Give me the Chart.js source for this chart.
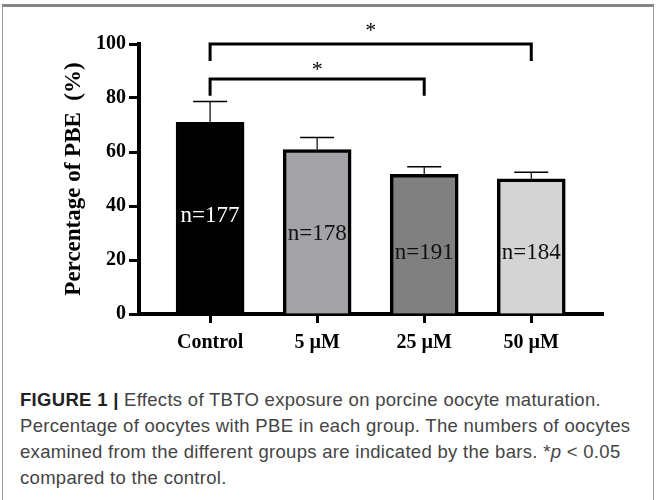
<!DOCTYPE html>
<html lang="en">
<head>
    <meta charset="UTF-8">
    <title>Percentage of PBE</title>
    <script src="https://cdn.jsdelivr.net/npm/chart.js"></script>
    <style>
        body { margin: 0; background: #fff; }
        #frame { position: absolute; left: 2px; top: 4px; width: 650px; height: 520px;
                 border-top: 3px solid #858585; border-left: 1px solid #9a9a9a; border-right: 1px solid #9a9a9a; }
        #box { position: absolute; left: 0; top: 0; width: 657px; height: 370px; }
        #caption { position: absolute; left: 20px; top: 387px; width: 630px;
                   font-family: "Liberation Sans", Arial, sans-serif; font-size: 18.5px; line-height: 26px;
                   letter-spacing: 0.3px; color: #444; white-space: nowrap; }
        #caption b { color: #222; }
    </style>
</head>
<body>
    <div id="frame"></div>
    <div id="box"><canvas id="myChart"></canvas></div>
    <div id="caption">
        <b>FIGURE 1 |</b> Effects of TBTO exposure on porcine oocyte maturation.<br>
        Percentage of oocytes with PBE in each group. The numbers of oocytes<br>
        examined from the different groups are indicated by the bars. *<i>p</i> &lt; 0.05<br>
        compared to the control.
    </div>

    <script>
        // datos
        const categories = ['Control', '5 µM', '25 µM', '50 µM'];
        const means = [71.0, 60.9, 51.7, 50.1];
        const sem = [7.7, 4.5, 2.8, 2.4];
        const nLabels = ['n=177', 'n=178', 'n=191', 'n=184'];
        const yTicks = [0, 20, 40, 60, 80, 100];
        // comparaciones significativas: desde, hasta
        const comparisons = [[0, 3], [0, 2]];

        const barColors = ['#000000', '#a3a2a7', '#808080', '#d4d4d4'];
        const serif = '"Liberation Serif", "Times New Roman", serif';

        // barras de error (SEM) dibujadas con las escalas del grafico
        const errorBars = {
            id: 'errorBars',
            beforeDatasetsDraw(chart) {
                const { ctx, scales: { x, y } } = chart;
                ctx.save();
                ctx.strokeStyle = '#000';
                means.forEach((m, i) => {
                    const px = x.getPixelForValue(i);
                    const top = y.getPixelForValue(m + sem[i]);
                    ctx.lineWidth = 1.2;
                    ctx.beginPath();
                    ctx.moveTo(px, y.getPixelForValue(m));
                    ctx.lineTo(px, top);
                    ctx.stroke();
                    ctx.lineWidth = 1.5;
                    ctx.beginPath();
                    ctx.moveTo(px - 17, top);
                    ctx.lineTo(px + 17, top);
                    ctx.stroke();
                });
                ctx.restore();
            }
        };

        // etiquetas n= dentro de las barras y corchetes de significancia
        const annotations = {
            id: 'annotations',
            afterDatasetsDraw(chart, args, opts) {
                const { ctx, scales: { x, y } } = chart;
                ctx.save();
                ctx.textAlign = 'center';
                ctx.textBaseline = 'middle';
                ctx.font = '23px ' + serif;
                nLabels.forEach((t, i) => {
                    ctx.fillStyle = i === 0 ? '#fff' : '#111';
                    ctx.fillText(t, x.getPixelForValue(i), y.getPixelForValue(opts.nLabelAt[i]));
                });

                ctx.strokeStyle = '#000';
                ctx.lineWidth = 3;
                ctx.fillStyle = '#000';
                ctx.font = '22px ' + serif;
                comparisons.forEach(([a, b], k) => {
                    const lvl = opts.bracket[k];
                    const x1 = x.getPixelForValue(a), x2 = x.getPixelForValue(b);
                    const yTop = y.getPixelForValue(lvl.top), yLeg = y.getPixelForValue(lvl.leg);
                    ctx.beginPath();
                    ctx.moveTo(x1, yLeg);
                    ctx.lineTo(x1, yTop);
                    ctx.lineTo(x2, yTop);
                    ctx.lineTo(x2, yLeg);
                    ctx.stroke();
                    ctx.textBaseline = 'alphabetic';
                    ctx.fillText('*', (x1 + x2) / 2, y.getPixelForValue(lvl.star));
                });
                ctx.restore();
            }
        };

        const ctx = document.getElementById('myChart').getContext('2d');
        const myChart = new Chart(ctx, {
            type: 'bar',
            data: {
                datasets: [{
                    data: means.map((m, i) => ({ x: i, y: m })),
                    backgroundColor: barColors,
                    borderColor: '#000',
                    borderWidth: 3.5,
                    borderSkipped: 'bottom',
                    barThickness: 68,
                    clip: false
                }]
            },
            plugins: [errorBars, annotations],
            options: {
                responsive: true,
                maintainAspectRatio: false,
                animation: false,
                layout: { padding: { top: 44, right: 54, left: 0, bottom: 0 } },
                plugins: {
                    legend: { display: false },
                    tooltip: { enabled: false },
                    annotations: {
                        nLabelAt: [36.3, 29.6, 22.6, 22.6],
                        bracket: [
                            { top: 100, leg: 93.7, star: 102.5 },
                            { top: 87, leg: 80.8, star: 88.2 }
                        ]
                    }
                },
                scales: {
                    x: {
                        type: 'linear',
                        min: -0.664,
                        max: 3.67,
                        offset: false,
                        afterBuildTicks: s => { s.ticks = categories.map((c, i) => ({ value: i })); },
                        afterFit: s => { s.height = 56; },
                        grid: { display: true, offset: false, drawOnChartArea: false, tickLength: 9, tickWidth: 3, tickColor: '#000' },
                        border: { display: true, width: 4, color: '#000' },
                        ticks: {
                            callback: v => categories[v],
                            color: '#000',
                            padding: 8,
                            maxRotation: 0,
                            font: { family: serif, size: 20, weight: 'bold' }
                        }
                    },
                    y: {
                        min: 0,
                        max: 100,
                        afterBuildTicks: s => { s.ticks = yTicks.map(v => ({ value: v })); },
                        afterFit: s => { s.width = 139; },
                        grid: { display: true, drawOnChartArea: false, tickLength: 10, tickWidth: 3, tickColor: '#000' },
                        border: { display: true, width: 4, color: '#000' },
                        ticks: {
                            color: '#000',
                            padding: 3,
                            font: { family: serif, size: 20, weight: 'bold' }
                        },
                        title: {
                            display: true,
                            text: 'Percentage of PBE  (%)',
                            color: '#000',
                            padding: { top: 60, bottom: 0 },
                            font: { family: serif, size: 23, weight: 'bold' }
                        }
                    }
                }
            }
        });
    </script>
</body>
</html>
